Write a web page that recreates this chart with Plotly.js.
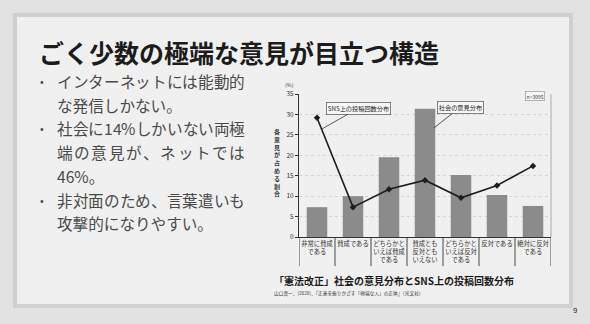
<!DOCTYPE html>
<html><head><meta charset="utf-8">
<script src="https://cdn.plot.ly/plotly-3.0.1.min.js"></script>
<style>html,body{margin:0;padding:0;background:#e2e2e2;}#chart{width:590px;height:324px;}</style>
</head><body><div id="chart"></div>
<script>
const categories = ['非常に賛成<br>である', '賛成である', 'どちらかと<br>いえば賛成<br>である', '賛成とも<br>反対とも<br>いえない', 'どちらかと<br>いえば反対<br>である', '反対である', '絶対に反対<br>である'];
const societyShare = [7.3, 10.0, 19.5, 31.4, 15.2, 10.3, 7.6];
const snsShare = [29.2, 7.3, 11.7, 13.9, 9.6, 12.6, 17.4];
const yTickVals = [0, 5, 10, 15, 20, 25, 30, 35];
const slideTitle = 'ごく少数の極端な意見が目立つ構造';
const bulletLines = ['インターネットには能動的', 'な発信しかない。', '社会に14%しかいない両極', '端の意見が、ネットでは', '46%。', '非対面のため、言葉遣いも', '攻撃的になりやすい。'];
const justifiedLines = [true, false, true, true, false, true, false];
const captionText = '「憲法改正」社会の意見分布とSNS上の投稿回数分布';
const sourceText = '山口真一．(2020)．『正義を振りかざす「極端な人」の正体』（光文社）';
const yAxisLabel = '各意見が占める割合';

const W = 590, H = 324;
const px = x => x / W;
const py = y => 1 - y / H;
const JP = 'Noto Sans CJK JP, Noto Sans, sans-serif';
const BODY_SIZE = 15.6;

const ctx = document.createElement('canvas').getContext('2d');
ctx.font = BODY_SIZE + 'px "Noto Sans CJK JP"';

const traces = [
  {type: 'bar', x: categories, y: societyShare, marker: {color: '#8b8b8b'}, hoverinfo: 'skip'},
  {type: 'scatter', mode: 'lines+markers', x: categories, y: snsShare,
   line: {color: '#1e1e1e', width: 1.6}, marker: {symbol: 'diamond', size: 5, color: '#1e1e1e'}, hoverinfo: 'skip'}
];

const ann = [];
ann.push({xref: 'paper', yref: 'paper', x: px(37), y: py(52), xanchor: 'left', yanchor: 'middle', showarrow: false,
  text: slideTitle, font: {family: JP, size: 25, color: '#1c1c1c', weight: 'bold'}});
const lineY = [81, 104.5, 128, 152, 175.5, 200, 223];
const textLeft = 55, textRight = 243;
bulletLines.forEach((t, i) => {
  if (justifiedLines[i]) {
    const chars = Array.from(t);
    const widths = chars.map(c => ctx.measureText(c).width);
    const total = widths.reduce((a, b) => a + b, 0);
    const gap = chars.length > 1 ? Math.max(0, (textRight - textLeft - total) / (chars.length - 1)) : 0;
    let cx = textLeft;
    chars.forEach((c, k) => {
      ann.push({xref: 'paper', yref: 'paper', x: px(cx), y: py(lineY[i]), xanchor: 'left', yanchor: 'middle',
        showarrow: false, text: c, font: {family: JP, size: BODY_SIZE, color: '#4a4a4a'}});
      cx += widths[k] + gap;
    });
  } else {
    ann.push({xref: 'paper', yref: 'paper', x: px(textLeft), y: py(lineY[i]), xanchor: 'left', yanchor: 'middle', showarrow: false,
      text: t, font: {family: JP, size: BODY_SIZE, color: '#4a4a4a'}});
  }
});
[0, 2, 5].forEach(i => ann.push({xref: 'paper', yref: 'paper', x: px(42), y: py(lineY[i]), xanchor: 'center', yanchor: 'middle',
  showarrow: false, text: '•', font: {family: JP, size: 11, color: '#4a4a4a'}}));

ann.push({xref: 'paper', yref: 'paper', x: px(272), y: py(280), xanchor: 'left', yanchor: 'middle', showarrow: false,
  text: captionText, font: {family: JP, size: 10, color: '#1c1c1c', weight: 'bold'}});
ann.push({xref: 'paper', yref: 'paper', x: px(272), y: py(293), xanchor: 'left', yanchor: 'middle', showarrow: false,
  text: sourceText, font: {family: JP, size: 4.7, color: '#333'}});
ann.push({xref: 'paper', yref: 'paper', x: px(575), y: py(311), xanchor: 'center', yanchor: 'middle', showarrow: false,
  text: '9', font: {family: 'DejaVu Sans', size: 7, color: '#333'}});
ann.push({xref: 'paper', yref: 'paper', x: px(289), y: py(85), xanchor: 'center', yanchor: 'middle', showarrow: false,
  text: '(%)', font: {family: JP, size: 5.3, color: '#333'}});
ann.push({xref: 'paper', yref: 'paper', x: px(277), y: py(162), xanchor: 'center', yanchor: 'middle', showarrow: false,
  text: Array.from(yAxisLabel).join('<br>'), font: {family: JP, size: 6, color: '#333', weight: 'bold'}});
ann.push({xref: 'x', yref: 'y', x: 0.13, y: 26.4, ax: 37, ay: -21, showarrow: true, arrowhead: 0, arrowwidth: 0.8, arrowcolor: '#333',
  text: 'SNS上の投稿回数分布', font: {family: JP, size: 6.2, color: '#222'}, bgcolor: '#f6f6f6', bordercolor: '#666', borderwidth: 0.8, borderpad: 1});
ann.push({xref: 'x', yref: 'y', x: 3.25, y: 26.7, ax: 26, ay: -20.5, showarrow: true, arrowhead: 0, arrowwidth: 0.8, arrowcolor: '#333',
  text: '社会の意見分布', font: {family: JP, size: 6.2, color: '#222'}, bgcolor: '#f6f6f6', bordercolor: '#666', borderwidth: 0.8, borderpad: 1});
ann.push({xref: 'paper', yref: 'paper', x: px(535), y: py(96), xanchor: 'center', yanchor: 'middle', showarrow: false,
  text: 'n=3095', font: {family: JP, size: 5, color: '#333'}, bgcolor: '#f6f6f6', bordercolor: '#888', borderwidth: 0.6, borderpad: 1});

const shapes = [];
shapes.push({type: 'rect', xref: 'paper', yref: 'paper', x0: px(15), x1: px(571), y0: py(15), y1: py(306),
  fillcolor: '#f0f0f0', line: {color: '#d0d0d0', width: 4}, layer: 'below'});
for (let i = 0; i <= categories.length; i++) {
  shapes.push({type: 'line', xref: 'x', yref: 'paper', x0: i - 0.5, x1: i - 0.5, y0: py(266), y1: py(237),
    line: {color: '#333', width: 0.9}});
}
shapes.push({type: 'line', xref: 'paper', yref: 'paper', x0: px(551), x1: px(551), y0: py(237), y1: py(94),
  line: {color: '#aaa', width: 1}});

const layout = {
  width: W, height: H, margin: {l: 0, r: 0, t: 0, b: 0},
  paper_bgcolor: '#e2e2e2', plot_bgcolor: 'rgba(0,0,0,0)', showlegend: false, bargap: 0.43,
  xaxis: {domain: [px(299), px(551)], type: 'category', range: [-0.5, 6.5], showgrid: false, zeroline: false,
    showline: true, linecolor: '#333', linewidth: 1, ticks: '', automargin: false,
    tickfont: {family: JP, size: 6.3, color: '#333'}},
  yaxis: {domain: [py(237), py(94)], range: [0, 35], tickvals: yTickVals, showgrid: true, gridcolor: '#c9c9c9', griddash: 'dot', gridwidth: 0.7,
    zeroline: false, showline: true, linecolor: '#333', linewidth: 1, ticks: 'outside', ticklen: 3, tickcolor: '#333', automargin: false,
    tickfont: {family: JP, size: 6.5, color: '#333'}},
  annotations: ann, shapes: shapes
};
Plotly.newPlot('chart', traces, layout, {staticPlot: true, displayModeBar: false});
</script></body></html>
